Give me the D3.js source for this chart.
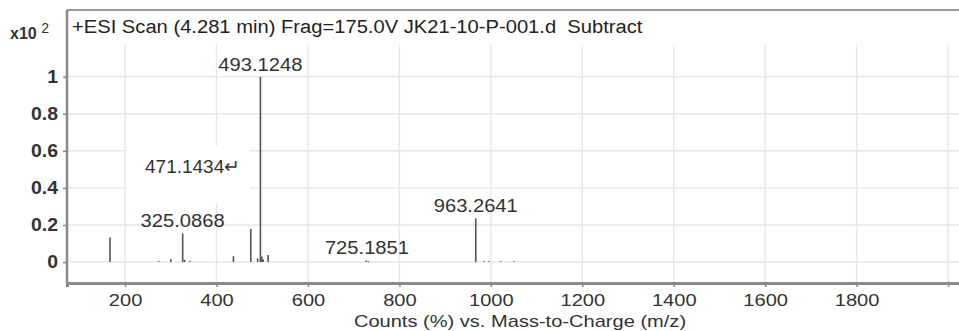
<!DOCTYPE html>
<html><head><meta charset="utf-8">
<script src="https://cdn.jsdelivr.net/npm/d3@7"></script>
<style>
html,body{margin:0;padding:0;background:#fff;}
svg{display:block;}
text{font-family:"Liberation Sans",Arial,sans-serif;}
</style></head>
<body>
<svg id="c" width="959" height="331"></svg>
<script>
// ---- data ----
const mz        = [167, 274, 300, 326, 330, 342, 437, 475, 490, 496, 499, 502, 513, 727, 732, 967, 985, 996, 1022, 1051];
const intensity = [0.133, 0.004, 0.015, 0.155, 0.012, 0.006, 0.032, 0.178, 0.02, 1.0, 0.03, 0.015, 0.038, 0.008, 0.005, 0.236, 0.005, 0.005, 0.004, 0.004];
const peakLabels = ["493.1248", "325.0868", "963.2641", "725.1851"];
const peakLabelMz = [496, 326, 967, 729];
const peakLabelY  = [1.0, 0.155, 0.236, 0.01];
const xTicks = [200, 400, 600, 800, 1000, 1200, 1400, 1600, 1800, 2000];
const xTickLabels = ["200", "400", "600", "800", "1000", "1200", "1400", "1600", "1800", ""];
const yTicks = [0, 0.2, 0.4, 0.6, 0.8, 1];
const yTickLabels = ["0", "0.2", "0.4", "0.6", "0.8", "1"];
const title = "+ESI Scan (4.281 min) Frag=175.0V JK21-10-P-001.d\u00A0 Subtract";
const xTitle = "Counts (%) vs. Mass-to-Charge (m/z)";
const boxLabel = "471.1434\u21B5";

const svg = d3.select("#c");
const L = 67, T = 10, B = 283;
const x = d3.scaleLinear().domain([73, 2050]).range([L, L + (2050 - 73) * 0.45722]);
const y = d3.scaleLinear().domain([-0.113, 1.36]).range([B, T]);
const R = x.range()[1];

function stretch(sel, k) {
  sel.each(function () {
    const w = this.getComputedTextLength();
    if (w > 0) d3.select(this).attr("textLength", w * k).attr("lengthAdjust", "spacingAndGlyphs");
  });
}

// grid
svg.append("g").selectAll("line").data(xTicks).join("line")
  .attr("x1", d => x(d)).attr("x2", d => x(d)).attr("y1", T + 35).attr("y2", B)
  .attr("stroke", "#e8e8e8").attr("stroke-width", 1.5);
svg.append("g").selectAll("line").data(yTicks).join("line")
  .attr("x1", L).attr("x2", R).attr("y1", d => y(d)).attr("y2", d => y(d))
  .attr("stroke", "#e8e8e8").attr("stroke-width", 1.5);

// white box behind 471 label
svg.append("rect").attr("x", 127).attr("y", 146).attr("width", 123).attr("height", 58).attr("fill", "#fff");

// frame
svg.append("line").attr("x1", L).attr("x2", R).attr("y1", T).attr("y2", T).attr("stroke", "#9a9a9a").attr("stroke-width", 2);
svg.append("line").attr("x1", L).attr("x2", L).attr("y1", T).attr("y2", B).attr("stroke", "#8a8a8a").attr("stroke-width", 2.5);

// axes
const xAxis = d3.axisBottom(x).tickValues(xTicks).tickSize(4).tickPadding(7).tickFormat((d, i) => xTickLabels[i]);
const gx = svg.append("g").attr("transform", `translate(0,${B})`).call(xAxis);
gx.select(".domain").attr("stroke", "#8a8a8a").attr("stroke-width", 3);
gx.selectAll(".tick line").attr("stroke", "#888").attr("stroke-width", 1.5);
gx.selectAll(".tick text").attr("font-size", 17).attr("fill", "#333").attr("font-family", "Liberation Sans, Arial, sans-serif");
stretch(gx.selectAll(".tick text"), 1.18);

const yAxis = d3.axisLeft(y).tickValues(yTicks).tickSize(4).tickPadding(5).tickFormat((d, i) => yTickLabels[i]);
const gy = svg.append("g").attr("transform", `translate(${L},0)`).call(yAxis);
gy.select(".domain").remove();
gy.selectAll(".tick line").attr("stroke", "#888").attr("stroke-width", 1.5);
gy.selectAll(".tick text").attr("font-size", 18).attr("fill", "#333").attr("font-weight", "bold").attr("font-family", "Liberation Sans, Arial, sans-serif");
stretch(gy.selectAll(".tick text"), 1.08);

// peaks
svg.append("g").selectAll("line").data(mz).join("line")
  .attr("x1", d => x(d)).attr("x2", d => x(d))
  .attr("y1", y(0)).attr("y2", (d, i) => y(intensity[i]))
  .attr("stroke", "#555").attr("stroke-width", 1.6);

// peak labels
const pl = svg.append("g").selectAll("text").data(peakLabels).join("text")
  .attr("x", (d, i) => x(peakLabelMz[i]))
  .attr("y", (d, i) => y(peakLabelY[i]) - 6)
  .attr("text-anchor", "middle").attr("font-size", 18).attr("fill", "#333")
  .text(d => d);
stretch(pl, 1.12);

svg.append("text").attr("x", 145).attr("y", 173)
  .attr("font-family", "Liberation Serif, Times New Roman, serif").attr("font-size", 19).attr("fill", "#333")
  .text(boxLabel);

// title
const tt = svg.append("text").attr("x", 72).attr("y", 33).attr("font-size", 18).attr("fill", "#222").text(title);
stretch(tt, 1.12);
// x10^2
const mult = svg.append("text").attr("x", 10).attr("y", 39).attr("font-size", 16).attr("fill", "#333").attr("font-weight", "bold");
mult.append("tspan").text("x10 ");
mult.append("tspan").attr("dy", -6).attr("font-size", 14).attr("font-weight", "normal").text("2");

// x axis title
const xt = svg.append("text").attr("x", 520).attr("y", 327).attr("text-anchor", "middle").attr("font-size", 17).attr("fill", "#333").text(xTitle);
stretch(xt, 1.18);
</script>
</body></html>
